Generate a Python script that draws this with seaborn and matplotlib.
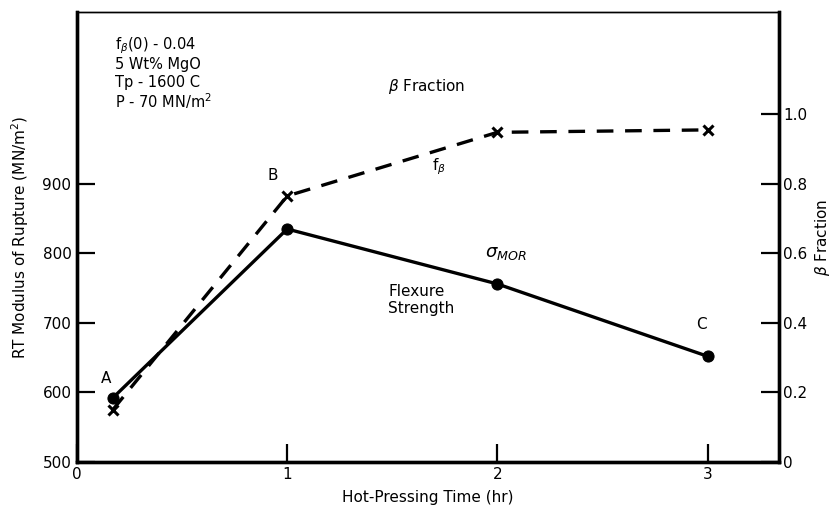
import matplotlib
matplotlib.use("Agg")
import matplotlib.pyplot as plt
import seaborn as sns
import pandas as pd

# Data
time_hr = [0.17, 1.0, 2.0, 3.0]
mor_values = [592, 835, 756, 652]            # RT modulus of rupture, MN/m^2
beta_fraction = [0.15, 0.765, 0.948, 0.955]  # beta fraction
left_ticks = [500, 600, 700, 800, 900]
right_ticks = [0, 0.2, 0.4, 0.6, 0.8, 1.0]
right_tick_labels = ["0", "0.2", "0.4", "0.6", "0.8", "1.0"]
x_ticks = [0, 1, 2, 3]
condition_lines = ["f$_\\beta$(0) - 0.04", "5 Wt% MgO", "Tp - 1600 C", "P - 70 MN/m$^2$"]
condition_y = [1099, 1071, 1045, 1019]

sns.set_style("white")
plt.rcParams['font.family'] = ['DejaVu Sans']
for key in ("text.color", "axes.labelcolor", "xtick.color", "ytick.color"):
    plt.rcParams[key] = "black"

fig = plt.figure(figsize=(8.35, 5.15), dpi=100)
ax = fig.add_axes([0.0922, 0.1029, 0.8408, 0.8738])
ax2 = ax.twinx()

df_mor = pd.DataFrame({"t": time_hr, "v": mor_values})
df_beta = pd.DataFrame({"t": time_hr, "v": beta_fraction})

sns.lineplot(data=df_mor, x="t", y="v", ax=ax, color="black", linewidth=2.4,
             marker="o", markersize=8, markeredgecolor="black")
sns.lineplot(data=df_beta, x="t", y="v", ax=ax2, color="black", linewidth=2.4,
             marker="x", markersize=7, markeredgewidth=2.2, markeredgecolor="black")
for line in ax2.lines:
    line.set_dashes([5, 3.5])

ax.set_xlim(0, 3.34)
ax.set_ylim(500, 1147)
ax2.set_ylim(0, 1.294)

ax.set_xticks(x_ticks)
ax.set_xticklabels([str(t) for t in x_ticks])
ax.set_yticks(left_ticks)
ax.set_yticklabels([str(t) for t in left_ticks])
ax2.set_yticks(right_ticks)
ax2.set_yticklabels(right_tick_labels)

ax.tick_params(axis="both", direction="in", length=13, width=1.6, labelsize=11,
               left=True, bottom=True, right=False, top=False)
ax.tick_params(axis="y", pad=4)
ax2.tick_params(axis="y", direction="in", length=13, width=1.6, labelsize=11,
                right=True, left=False, pad=3)

for a in (ax, ax2):
    for side in ("left", "bottom", "right"):
        a.spines[side].set_linewidth(2.4)
        a.spines[side].set_color("black")
    a.spines["top"].set_linewidth(1.0)
    a.spines["top"].set_color("black")

ax.set_xlabel("Hot-Pressing Time (hr)", fontsize=11, labelpad=6)
ax.set_ylabel("RT Modulus of Rupture (MN/m$^2$)", fontsize=11, labelpad=8)
ax2.set_ylabel(r"$\beta$ Fraction", fontsize=11, labelpad=4)

# Annotations
for txt, yv in zip(condition_lines, condition_y):
    ax.text(0.18, yv, txt, fontsize=10.5, va="center", ha="left")
ax.text(1.48, 1040, r"$\beta$ Fraction", fontsize=11, va="center", ha="left")
ax.text(0.93, 912, "B", fontsize=11, ha="center", va="center")
ax.text(1.72, 925, r"f$_\beta$", fontsize=11, ha="center", va="center")
ax.text(1.94, 800, r"$\sigma_{MOR}$", fontsize=13, ha="left", va="center")
ax.text(1.48, 733, "Flexure\nStrength", fontsize=11, ha="left", va="center", linespacing=1.15)
ax.text(0.14, 620, "A", fontsize=11, ha="center", va="center")
ax.text(2.97, 697, "C", fontsize=11, ha="center", va="center")

fig.savefig("out.png", dpi=100)
